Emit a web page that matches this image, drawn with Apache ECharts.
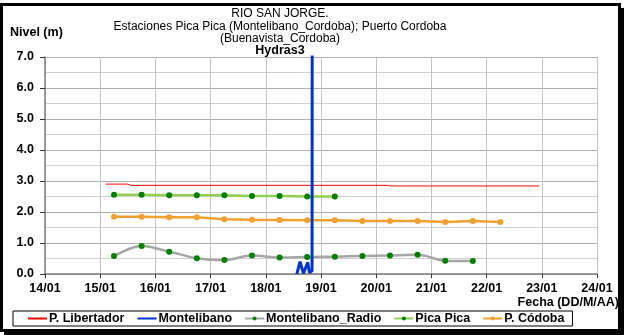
<!DOCTYPE html>
<html>
<head>
<meta charset="utf-8">
<script src="https://cdn.jsdelivr.net/npm/echarts@6/dist/echarts.min.js"></script>
<style>
  html, body { margin: 0; padding: 0; background: #ffffff; }
  #chart { width: 624px; height: 335px; }
</style>
</head>
<body>
<div id="chart"></div>
<script>
// Fecha en días de enero (fracción = hora del día)
const stationDays = [15.25, 15.75, 16.25, 16.75, 17.25, 17.75, 18.25, 18.75,
                     19.25, 19.75, 20.25, 20.75, 21.25, 21.75, 22.25];

// Nivel (m) por estación
const picaPicaVals = [2.56, 2.56, 2.54, 2.54, 2.54, 2.52, 2.52, 2.50, 2.50];
const radioVals    = [0.58, 0.90, 0.72, 0.51, 0.45, 0.60, 0.53, 0.55, 0.56,
                      0.58, 0.60, 0.62, 0.43, 0.42];
const cordobaVals  = [1.85, 1.85, 1.83, 1.83, 1.77, 1.75, 1.74, 1.73, 1.73,
                      1.71, 1.71, 1.71, 1.68, 1.71, 1.68];

const libertadorDays = [15.1, 15.5, 15.55, 20.2, 20.25, 22.95];
const libertadorVals = [2.90, 2.90, 2.86, 2.86, 2.84, 2.84];

const montelibanoDays = [18.562, 18.621, 18.681, 18.760, 18.789, 18.838, 18.842];
const montelibanoVals = [0.00, 0.40, 0.02, 0.38, 0.05, 0.10, 12.0];

const seriesNames = ['P. Libertador', 'Montelibano', 'Montelibano_Radio', 'Pica Pica', 'P. Códoba'];
const titleLines = ['RIO SAN JORGE.',
                    'Estaciones Pica Pica (Montelibano_Cordoba); Puerto Cordoba',
                    '(Buenavista_Cordoba)'];
const subTitle = 'Hydras3';
const yAxisName = 'Nivel (m)';
const xAxisName = 'Fecha (DD/M/AA)';

function pairs(xs, ys) { return ys.map((v, i) => [xs[i], v]); }

const FONT = 'Arial, "Liberation Sans", sans-serif';
const BOLD = 12.5;

const chart = echarts.init(document.getElementById('chart'), null, { renderer: 'canvas' });

const titleGraphics = titleLines.map((t, i) => ({
  type: 'text', x: 280, y: 14 + i * 12.3,
  style: { text: t, fontFamily: FONT, fontSize: 12, fill: '#000',
           align: 'center', verticalAlign: 'middle' }
}));

const noMarker = { color: 'rgba(0,0,0,0)', borderWidth: 0 };

chart.setOption({
  animation: false,
  backgroundColor: '#ffffff',
  grid: { left: 45, right: 27, top: 57, bottom: 61, containLabel: false },
  xAxis: {
    type: 'value', min: 14, max: 24, interval: 1,
    axisLine: { lineStyle: { color: '#7f7f7f', width: 1.5 } },
    axisTick: { show: true, length: 4, lineStyle: { color: '#333' } },
    axisLabel: {
      margin: 8, color: '#000', fontFamily: FONT, fontSize: BOLD, fontWeight: 'bold',
      formatter: v => String(Math.round(v)).padStart(2, '0') + '/01'
    },
    splitLine: { show: true, lineStyle: { color: '#c4c4c4', width: 1 } }
  },
  yAxis: {
    type: 'value', min: 0, max: 7, interval: 1,
    axisLine: { show: true, lineStyle: { color: '#7f7f7f', width: 1.5 } },
    axisTick: { show: true, length: 5, lineStyle: { color: '#333' } },
    axisLabel: {
      margin: 11, color: '#000', fontFamily: FONT, fontSize: BOLD, fontWeight: 'bold',
      formatter: v => v.toFixed(1)
    },
    splitLine: { show: true, lineStyle: { color: '#b0b0b0', width: 1 } },
    minorTick: { show: false, splitNumber: 2 },
    minorSplitLine: { show: true, lineStyle: { color: '#d0d0d0', width: 1 } }
  },
  legend: {
    data: [
      { name: seriesNames[0], itemStyle: noMarker },
      { name: seriesNames[1], itemStyle: noMarker },
      { name: seriesNames[2] },
      { name: seriesNames[3] },
      { name: seriesNames[4] }
    ],
    left: 13, top: 311,
    orient: 'horizontal',
    padding: [1, 8, 1, 14],
    itemWidth: 19, itemHeight: 5, itemGap: 12,
    borderColor: '#000', borderWidth: 1, backgroundColor: '#fff',
    textStyle: { color: '#000', fontFamily: FONT, fontSize: BOLD, fontWeight: 'bold', padding: [0, 0, 0, -3] }
  },
  graphic: [
    ...titleGraphics,
    { type: 'text', x: 280, y: 50.5,
      style: { text: subTitle, fontFamily: FONT, fontSize: BOLD, fontWeight: 'bold',
               fill: '#000', align: 'center', verticalAlign: 'middle' } },
    { type: 'text', x: 10, y: 33,
      style: { text: yAxisName, fontFamily: FONT, fontSize: BOLD, fontWeight: 'bold',
               fill: '#000', align: 'left', verticalAlign: 'middle' } },
    { type: 'text', x: 619, y: 303,
      style: { text: xAxisName, fontFamily: FONT, fontSize: BOLD, fontWeight: 'bold',
               fill: '#000', align: 'right', verticalAlign: 'middle' } },
    // marco exterior con sombra
    { type: 'rect', shape: { x: 1.5, y: 4.5, width: 618, height: 326 },
      style: { fill: null, stroke: '#000', lineWidth: 3 }, z: 100 },
    { type: 'rect', shape: { x: 619, y: 8, width: 5, height: 327 },
      style: { fill: '#000' }, z: 100 },
    { type: 'rect', shape: { x: 4, y: 330, width: 620, height: 5 },
      style: { fill: '#000' }, z: 100 }
  ],
  series: [
    {
      name: seriesNames[0], type: 'line', symbol: 'none',
      data: pairs(libertadorDays, libertadorVals),
      lineStyle: { color: '#ff0000', width: 1 }, itemStyle: { color: '#ff0000' }, z: 2
    },
    {
      name: seriesNames[2], type: 'line', smooth: 0.35,
      symbol: 'circle', symbolSize: 6, showSymbol: true,
      data: pairs(stationDays, radioVals),
      lineStyle: { color: '#a6a6a6', width: 2.5 }, itemStyle: { color: '#008000' }, z: 3
    },
    {
      name: seriesNames[3], type: 'line',
      symbol: 'circle', symbolSize: 6, showSymbol: true,
      data: pairs(stationDays, picaPicaVals),
      lineStyle: { color: '#92d050', width: 2.5 }, itemStyle: { color: '#008000' }, z: 3
    },
    {
      name: seriesNames[4], type: 'line',
      symbol: 'circle', symbolSize: 6, showSymbol: true,
      data: pairs(stationDays, cordobaVals),
      lineStyle: { color: '#f0a030', width: 2.5 }, itemStyle: { color: '#f0a030' }, z: 3
    },
    {
      name: seriesNames[1], type: 'line', symbol: 'none', clip: true,
      data: pairs(montelibanoDays, montelibanoVals),
      lineStyle: { color: '#0033cc', width: 3 }, itemStyle: { color: '#0033cc' }, z: 5
    }
  ]
});
</script>
</body>
</html>
